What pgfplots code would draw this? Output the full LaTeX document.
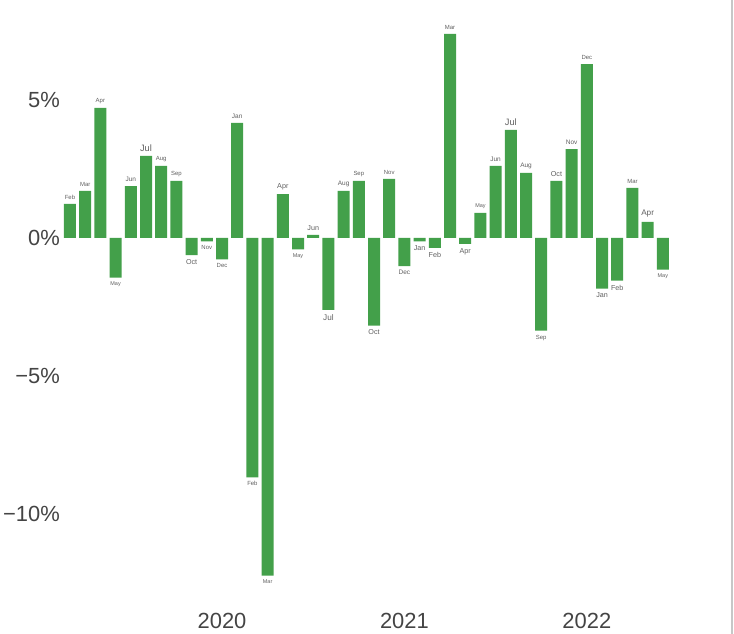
\documentclass[border=0pt]{standalone}
\usepackage{fontspec}
\setmainfont{Liberation Sans}
\usepackage{pgfplots}
\pgfplotsset{compat=1.18}
\definecolor{barg}{HTML}{43A04A}
\definecolor{lab}{HTML}{606060}
\definecolor{tk}{HTML}{444444}
\protected\def\Fa{\fontsize{5.5}{6}\selectfont}
\protected\def\Fb{\fontsize{6}{7}\selectfont}
\protected\def\Fc{\fontsize{6.5}{7}\selectfont}
\protected\def\Fd{\fontsize{7.2}{8}\selectfont}
\protected\def\Fe{\fontsize{8.2}{9}\selectfont}
\protected\def\Ff{\fontsize{9.3}{10}\selectfont}
\begin{document}
\begin{tikzpicture}
\useasboundingbox (0,0) rectangle (734bp,634bp);
\begin{axis}[
  at={(62bp,34bp)}, anchor=south west,
  scale only axis, width=670bp, height=600bp,
  xmin=-10.526, xmax=33.55, ymin=-13.12, ymax=8.62,
  axis line style={draw=none}, clip=false,
  ybar, bar width=12bp,
  xtick={0,12,24}, xticklabels={2020,2021,2022},
  ytick={-10,-5,0,5}, yticklabels={−10\%,−5\%,0\%,5\%},
  major tick length=0pt, tick style={draw=none},
  tick label style={font=\fontsize{22}{24}\selectfont, text=tk, inner sep=0pt},
  xticklabel style={anchor=base, yshift=-28bp},
  yticklabel style={anchor=east, xshift=-2bp},
  point meta=explicit symbolic,
  visualization depends on={rawy \as \rawy},
  nodes near coords={\pgfplotspointmeta},
  every node near coord/.append style={text=lab, inner xsep=0pt, inner ysep=4bp,
    anchor={\ifdim\rawy pt<0pt north\else south\fi}},
]
\addplot[fill=barg, draw=none] coordinates {
(-10,1.23) [\Fb Feb]
(-9,1.70) [\Fb Mar]
(-8,4.71) [\Fb Apr]
(-7,-1.44) [\Fa May]
(-6,1.88) [\Fc Jun]
(-5,2.97) [\Ff Jul]
(-4,2.61) [\Fb Aug]
(-3,2.07) [\Fb Sep]
(-2,-0.62) [\Fd Oct]
(-1,-0.13) [\Fb Nov]
(0,-0.78) [\Fb Dec]
(1,4.17) [\Fc Jan]
(2,-8.68) [\Fb Feb]
(3,-12.24) [\Fa Mar]
(4,1.59) [\Fd Apr]
(5,-0.42) [\Fa May]
(6,0.11) [\Fd Jun]
(7,-2.61) [\Fe Jul]
(8,1.70) [\Fc Aug]
(9,2.07) [\Fb Sep]
(10,-3.18) [\Fd Oct]
(11,2.14) [\Fb Nov]
(12,-1.02) [\Fc Dec]
(13,-0.13) [\Fd Jan]
(14,-0.36) [\Fd Feb]
(15,7.39) [\Fb Mar]
(16,-0.22) [\Fd Apr]
(17,0.91) [\Fa May]
(18,2.61) [\Fc Jun]
(19,3.91) [\Ff Jul]
(20,2.36) [\Fc Aug]
(21,-3.36) [\Fb Sep]
(22,2.07) [\Fd Oct]
(23,3.22) [\Fc Nov]
(24,6.30) [\Fb Dec]
(25,-1.84) [\Fd Jan]
(26,-1.55) [\Fd Feb]
(27,1.81) [\Fb Mar]
(28,0.58) [\Fe Apr]
(29,-1.15) [\Fa May]
};
\end{axis}
\draw[black!22, line width=2bp] (732bp,0) -- (732bp,634bp);
\end{tikzpicture}
\end{document}
